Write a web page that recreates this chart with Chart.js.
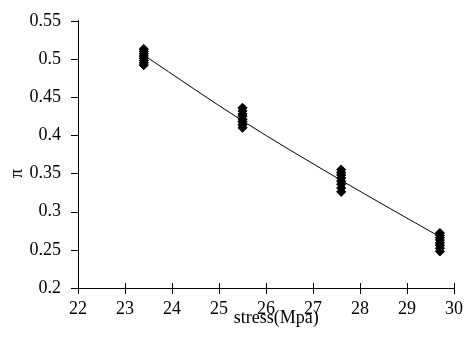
<!DOCTYPE html>
<html>
<head>
<meta charset="utf-8">
<script src="https://cdn.jsdelivr.net/npm/chart.js@4/dist/chart.umd.min.js"></script>
<style>
  html, body { margin: 0; padding: 0; background: #fff; }
  #wrap { width: 467px; height: 347px; }
</style>
</head>
<body>
<div id="wrap"><canvas id="piChart" width="467" height="347"></canvas></div>
<script>
const stressLevels = [23.4, 25.5, 27.6, 29.7];
const piAt23 = [0.492, 0.495, 0.498, 0.501, 0.504, 0.507, 0.510, 0.513];
const piAt25 = [0.410, 0.414, 0.418, 0.421, 0.425, 0.428, 0.432, 0.436];
const piAt27 = [0.326, 0.331, 0.336, 0.340, 0.344, 0.348, 0.351, 0.355];
const piAt29 = [0.248, 0.252, 0.256, 0.259, 0.263, 0.266, 0.269, 0.272];
// fitted curve
const fitPi = [0.505, 0.419, 0.341, 0.267];

const xMin = 22, xMax = 30, xStep = 1;
const yMin = 0.2, yMax = 0.55, yStep = 0.05;

const measured = [];
[piAt23, piAt25, piAt27, piAt29].forEach(function (vals, i) {
    vals.forEach(function (v) { measured.push({ x: stressLevels[i], y: v }); });
});
const fitLine = stressLevels.map(function (s, i) { return { x: s, y: fitPi[i] }; });

const serif = 'Liberation Serif';

// tick marks (outer on y, both sides on x) and axis titles
const extras = {
    id: 'extras',
    afterDraw: function (chart) {
        const ctx = chart.ctx;
        const xs = chart.scales.x, ys = chart.scales.y;
        const axisY = Math.round(ys.bottom);
        const axisX = Math.round(xs.left);
        ctx.save();
        ctx.fillStyle = '#000';
        for (let v = xMin; v <= xMax; v += xStep) {
            const px = Math.round(xs.getPixelForValue(v));
            ctx.fillRect(px, axisY - 5, 1, 11);
        }
        for (let i = 0; i <= Math.round((yMax - yMin) / yStep); i++) {
            const py = Math.round(ys.getPixelForValue(yMin + i * yStep));
            ctx.fillRect(axisX - 7, py, 7, 1);
        }

        ctx.font = '18px "' + serif + '"';
        ctx.textAlign = 'center';
        ctx.textBaseline = 'middle';
        ctx.fillText('stress(Mpa)', xs.getPixelForValue(26.22), 318);

        ctx.translate(17, ys.getPixelForValue(0.35));
        ctx.rotate(-Math.PI / 2);
        ctx.fillText('π', 0, 0);
        ctx.restore();
    }
};

new Chart(document.getElementById('piChart'), {
    type: 'scatter',
    data: {
        datasets: [{
            label: 'fit',
            data: fitLine,
            showLine: true,
            borderColor: '#000',
            borderWidth: 1,
            pointRadius: 0,
            cubicInterpolationMode: 'monotone',
            order: 2
        }, {
            label: 'measured',
            data: measured,
            pointStyle: 'rectRot',
            pointRadius: 4.6,
            backgroundColor: '#000',
            borderColor: '#000',
            borderWidth: 1,
            order: 1
        }]
    },
    options: {
        responsive: false,
        animation: false,
        layout: { padding: { top: 15, right: 11, bottom: 0, left: 0 } },
        plugins: {
            legend: { display: false },
            tooltip: { enabled: false }
        },
        scales: {
            x: {
                type: 'linear',
                min: xMin, max: xMax,
                afterFit: function (s) { s.height = 59; },
                ticks: {
                    stepSize: xStep,
                    color: '#000',
                    padding: 4,
                    font: { family: serif, size: 18 }
                },
                grid: { display: false, tickLength: 6 },
                border: { display: true, color: '#000', width: 1 }
            },
            y: {
                type: 'linear',
                min: yMin, max: yMax,
                afterFit: function (s) { s.width = 78; },
                ticks: {
                    stepSize: yStep,
                    color: '#000',
                    padding: 10,
                    font: { family: serif, size: 18 },
                    callback: function (v) { return String(parseFloat(v.toFixed(2))); }
                },
                grid: { display: false, tickLength: 7 },
                border: { display: true, color: '#000', width: 1 }
            }
        }
    },
    plugins: [extras]
});
</script>
</body>
</html>
